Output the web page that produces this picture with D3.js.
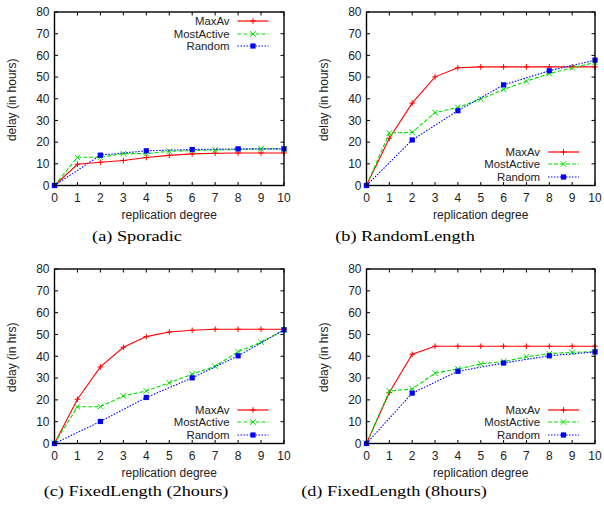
<!DOCTYPE html>
<html>
<head>
<meta charset="utf-8">
<script src="https://cdn.jsdelivr.net/npm/d3@7"></script>
<style>
  body { margin: 0; background: #fff; }
  svg { display: block; }
</style>
</head>
<body>
<div id="wrapper"></div>
<script>
// replication degree (x) and the delay of each strategy, per scenario
const degrees = [0, 1, 2, 3, 4, 5, 6, 7, 8, 9, 10]
const randomDegrees = [0, 2, 4, 6, 8, 10]
const yTicks = [0, 10, 20, 30, 40, 50, 60, 70, 80]
const seriesNames = ["MaxAv", "MostActive", "Random"]

// (a) Sporadic
const sporadicMaxAv = [0, 9.8, 10.7, 11.5, 12.9, 13.9, 14.6, 14.9, 15, 15, 15]
const sporadicMostActive = [0, 13, 13, 14.7, 14.7, 15.8, 16.1, 16.4, 16.6, 16.9, 16.9]
const sporadicRandom = [0, 14, 16, 16.6, 16.9, 16.9]

// (b) RandomLength
const randomLengthMaxAv = [0, 21.8, 38, 50.1, 54.3, 54.7, 54.7, 54.7, 54.7, 54.7, 54.7]
const randomLengthMostActive = [0, 24.2, 24.5, 33.6, 36, 39.8, 44.3, 48.1, 51.6, 54.3, 56.7]
const randomLengthRandom = [0, 21, 34.5, 46.4, 52.9, 57.8]

// (c) FixedLength (2hours)
const fixed2MaxAv = [0, 20.3, 35.1, 44.1, 49, 51.1, 51.9, 52.4, 52.4, 52.4, 52.4]
const fixed2MostActive = [0, 16.8, 16.9, 21.8, 24.1, 27.8, 31.8, 35.4, 42.1, 46.4, 52.1]
const fixed2Random = [0, 10.1, 21.1, 30.1, 40.2, 52.1]

// (d) FixedLength (8hours)
const fixed8MaxAv = [0, 23.4, 40.9, 44.6, 44.6, 44.6, 44.6, 44.6, 44.6, 44.6, 44.6]
const fixed8MostActive = [0, 24.1, 25, 32.2, 34.2, 36.5, 37.6, 39.7, 41.2, 41.8, 42.1]
const fixed8Random = [0, 23.1, 33.1, 36.9, 40.2, 42]

const captions = ["(a) Sporadic", "(b) RandomLength", "(c) FixedLength (2hours)", "(d) FixedLength (8hours)"]
const yLabels = ["delay (in hours)", "delay (in hours)", "delay (in hrs)", "delay (in hrs)"]

// layout of the four panels
const panels = [
    { left: 54.5, right: 284, top: 12, bottom: 185.5, legend: "top", capX: 137, capY: 241,
      series: [sporadicMaxAv, sporadicMostActive, sporadicRandom] },
    { left: 366.5, right: 595, top: 12, bottom: 185.5, legend: "bottom", capX: 405, capY: 241,
      series: [randomLengthMaxAv, randomLengthMostActive, randomLengthRandom] },
    { left: 54.5, right: 284, top: 269, bottom: 443.5, legend: "bottom", capX: 136, capY: 496,
      series: [fixed2MaxAv, fixed2MostActive, fixed2Random] },
    { left: 366.5, right: 595, top: 269, bottom: 443.5, legend: "bottom", capX: 394, capY: 496,
      series: [fixed8MaxAv, fixed8MostActive, fixed8Random] },
]

const styles = [
    { color: "#ff0000", dash: null, marker: "plus" },
    { color: "#00e000", dash: "4,2", marker: "cross" },
    { color: "#0000ff", dash: "1.5,1.5", marker: "square" },
]

const sans = "'Liberation Sans', Arial, sans-serif"
const serif = "'Liberation Serif', 'Times New Roman', serif"

const svg = d3.select("#wrapper")
    .append("svg")
        .attr("width", 604)
        .attr("height", 516)

function drawMarker(g, type, x, y, color) {
    const s = 2.8
    if (type === "plus") {
        g.append("path")
            .attr("d", `M${x - s},${y}H${x + s}M${x},${y - s}V${y + s}`)
            .style("stroke", color).attr("stroke-width", 1).attr("fill", "none")
    } else if (type === "cross") {
        g.append("path")
            .attr("d", `M${x - s},${y - s}L${x + s},${y + s}M${x - s},${y + s}L${x + s},${y - s}`)
            .style("stroke", color).attr("stroke-width", 1).attr("fill", "none")
    } else {
        g.append("rect")
            .attr("x", x - 2.6).attr("y", y - 2.6)
            .attr("width", 5.2).attr("height", 5.2)
            .style("fill", color)
    }
}

panels.forEach((p, pi) => {
    const g = svg.append("g")

    const x = d3.scaleLinear().domain([0, 10]).range([p.left, p.right])
    const y = d3.scaleLinear().domain([0, 80]).range([p.bottom, p.top])

    // inward ticks on all four sides
    const tickLen = 3.5
    const ticks = g.append("g")
    degrees.forEach(d => {
        ticks.append("line").attr("x1", x(d)).attr("x2", x(d)).attr("y1", p.bottom).attr("y2", p.bottom - tickLen)
        ticks.append("line").attr("x1", x(d)).attr("x2", x(d)).attr("y1", p.top).attr("y2", p.top + tickLen)
    })
    yTicks.forEach(t => {
        ticks.append("line").attr("x1", p.left).attr("x2", p.left + tickLen).attr("y1", y(t)).attr("y2", y(t))
        ticks.append("line").attr("x1", p.right).attr("x2", p.right - tickLen).attr("y1", y(t)).attr("y2", y(t))
    })
    ticks.selectAll("line").style("stroke", "#000").attr("stroke-width", 1)

    // tick labels
    g.append("g").selectAll("text")
        .data(degrees)
        .join("text")
        .attr("x", d => x(d))
        .attr("y", p.bottom + 16)
        .attr("text-anchor", "middle")
        .attr("font-family", sans)
        .attr("font-size", 12)
        .attr("fill", "#222")
        .text(d => d)

    g.append("g").selectAll("text")
        .data(yTicks)
        .join("text")
        .attr("x", p.left - 5)
        .attr("y", d => y(d) + 4.3)
        .attr("text-anchor", "end")
        .attr("font-family", sans)
        .attr("font-size", 12)
        .attr("fill", "#222")
        .text(d => d)

    // axis titles
    g.append("text")
        .attr("x", (p.left + p.right) / 2)
        .attr("y", p.bottom + 33)
        .attr("text-anchor", "middle")
        .attr("font-family", sans)
        .attr("font-size", 12)
        .attr("fill", "#222")
        .text("replication degree")

    g.append("text")
        .attr("transform", `translate(${p.left - 39},${(p.top + p.bottom) / 2 + 1}) rotate(-90)`)
        .attr("text-anchor", "middle")
        .attr("font-family", sans)
        .attr("font-size", 12)
        .attr("fill", "#222")
        .text(yLabels[pi])

    // series
    p.series.forEach((vals, si) => {
        const st = styles[si]
        const xs = si === 2 ? randomDegrees : degrees
        const pts = vals.map((v, i) => [x(xs[i]), y(v)])
        g.append("path")
            .attr("d", d3.line()(pts))
            .attr("fill", "none")
            .style("stroke", st.color)
            .attr("stroke-width", 1.1)
            .attr("stroke-dasharray", st.dash)
        pts.forEach(pt => drawMarker(g, st.marker, pt[0], pt[1], st.color))
    })

    // legend
    const textRight = pi % 2 === 0 ? p.left + 175 : p.left + 173.5
    const rowY = p.legend === "top" ? [p.top + 9, p.top + 21.5, p.top + 34]
                                    : [p.bottom - 34, p.bottom - 21.5, p.bottom - 9]
    const leg = g.append("g")
    seriesNames.forEach((name, si) => {
        const st = styles[si]
        const ry = Math.round(rowY[si])
        leg.append("text")
            .attr("x", textRight)
            .attr("y", ry + 4)
            .attr("text-anchor", "end")
            .attr("font-family", sans)
            .attr("font-size", 11.4)
            .attr("fill", "#222")
            .text(name)
        const lx1 = textRight + 8, lx2 = textRight + 39
        leg.append("path")
            .attr("d", `M${lx1},${ry}H${lx2}`)
            .attr("fill", "none")
            .style("stroke", st.color)
            .attr("stroke-width", 1.2)
            .attr("stroke-dasharray", st.dash)
        drawMarker(leg, st.marker, (lx1 + lx2) / 2, ry, st.color)
    })

    // frame
    g.append("rect")
        .attr("x", p.left).attr("y", p.top)
        .attr("width", p.right - p.left).attr("height", p.bottom - p.top)
        .attr("fill", "none")
        .style("stroke", "#000")
        .attr("stroke-width", 1.4)

    // caption, slightly wide serif like the original figure
    svg.append("text")
        .attr("transform", `translate(${p.capX},${p.capY}) scale(1.18,1)`)
        .attr("text-anchor", "middle")
        .attr("font-family", serif)
        .attr("font-size", 15.5)
        .attr("fill", "#000")
        .text(captions[pi])
})
</script>
</body>
</html>
